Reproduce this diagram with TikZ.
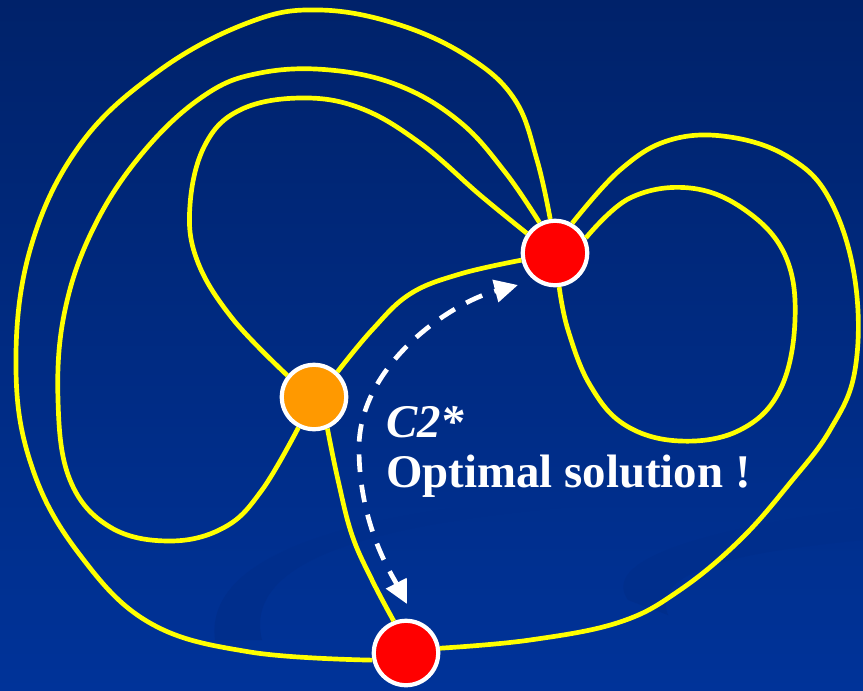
\documentclass[tikz,border=0pt]{standalone}
\usepackage{fontspec}
\setmainfont{Liberation Serif}
\usetikzlibrary{arrows.meta}
\definecolor{skyTop}{HTML}{00226A}
\definecolor{skyMid}{HTML}{00308F}
\definecolor{skyLow}{HTML}{003399}
\definecolor{swoosh}{HTML}{002E8C}
\definecolor{road}{HTML}{FFFF00}
\definecolor{depot}{HTML}{FF9900}
\definecolor{client}{HTML}{FF0000}
\tikzset{
  >={Triangle[length=20pt, width=19pt]},
  vertex/.style={circle, fill=#1, draw=white, line width=3.6pt, minimum size=55pt, inner sep=0pt},
  link/.style={draw=road, line width=4pt},
  hop/.style={->, draw=white, line width=4pt, dash pattern=on 15pt off 11pt, dash phase=20.5pt},
  say/.style={text=white, font=\bfseries\fontsize{40}{44}\selectfont, anchor=base west, inner sep=0pt},
}

\begin{document}
\begin{tikzpicture}[x=0.03cm, y=-0.03cm]

  % ---------------------------------------------------------------- backdrop
  \useasboundingbox (0,0) rectangle (863,690);
  \shade[top color=skyTop, middle color=skyMid, bottom color=skyLow] (0,0) rectangle (863,690);
  \fill[swoosh] (215,640) .. controls (205,560) and (330,515) .. (560,496)
    .. controls (700,485) and (800,480) .. (863,478) -- (863,492)
    .. controls (760,495) and (650,500) .. (560,508)
    .. controls (340,528) and (245,570) .. (262,640) -- cycle;
  \fill[swoosh] (628,600) .. controls (600,560) and (700,530) .. (863,508) -- (863,540)
    .. controls (740,552) and (650,570) .. (668,615) -- cycle;

  % ---------------------------------------------------------------- vertices
  \node[vertex=depot] (base) at (314,397) {};
  \node[vertex=client] (peak) at (555,253) {};
  \node[vertex=client] (foot) at (406,653) {};

  % ---------------------------------------------------------------- roads
  \tikzset{tension=0.65}
  \draw[link] plot[smooth] coordinates {(base.47) (372,330) (410,294) (460,274) (peak.192)};
  \draw[link] plot[smooth] coordinates {(base.293) (338,480) (352,535) (372,580) (foot.111)};
  \draw[link] plot[smooth] coordinates {(base.141) (232,318) (197,260) (190,205) (205,145)
    (240,110) (300,98) (360,108) (420,143) (480,195) (peak.145)};
  \draw[link] plot[smooth] coordinates {(base.243) (262,490) (225,527) (170,541) (110,527)
    (70,480) (58,400) (65,310) (95,225) (145,150) (205,95) (260,73) (330,70) (400,86)
    (460,122) (505,172) (peak.117)};
  \draw[link] plot[smooth] coordinates {(foot.192) (250,652) (150,623) (80,555) (33,470)
    (16,370) (30,250) (80,145) (160,70) (250,22) (320,10) (400,25) (470,58) (515,100)
    (537,160) (peak.98)};
  \draw[link] plot[smooth] coordinates {(peak.60) (620,170) (670,140) (730,137) (790,158)
    (830,200) (855,280) (855,370) (830,430) (790,483) (740,540) (680,590) (620,622)
    (530,640) (foot.8)};
  \draw[link] plot[smooth] coordinates {(peak.26) (630,198) (690,188) (745,210) (785,255)
    (795,320) (780,390) (740,430) (680,441) (625,425) (590,385) (568,330) (peak.277)};

  % ---------------------------------------------------------------- moves
  \coordinate (fork) at (359,448);
  \coordinate (upTip) at (518,285);
  \coordinate (downTip) at (407,604);
  \draw[hop] (fork) .. controls (359,365) and (450,303) .. (upTip);
  \draw[hop] (fork) .. controls (359,525) and (392,575) .. (downTip);

  \node[say] (tag) at (386,437) {\itshape C2*};
  \node[say] (verdict) at (386,487) {Optimal solution !};

\end{tikzpicture}
\end{document}
